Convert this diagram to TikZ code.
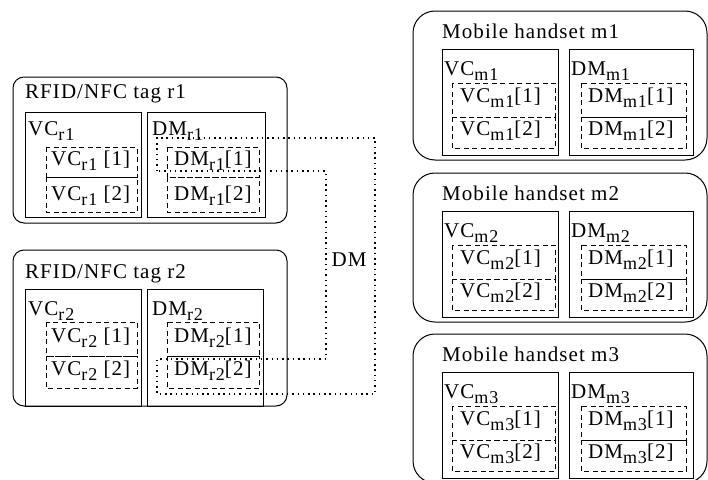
\documentclass[tikz,border=0pt]{standalone}
\usepackage{fontspec}
\setmainfont{Liberation Serif}[LetterSpace=5]
\newcommand\mysub[1]{\raisebox{-5pt}{\fontsize{18}{18}\selectfont #1}}
\begin{document}
\begin{tikzpicture}[x=1pt,y=-1pt,
  outerr/.style={draw,line width=1pt,rounded corners=11pt},
  outerm/.style={draw,line width=1pt,rounded corners=22pt},
  cbox/.style={draw,line width=1pt},
  dbox/.style={draw,line width=1pt,dash pattern=on 5pt off 3.5pt},
  link/.style={draw,line width=1.1pt,dash pattern=on 1.5pt off 3.8pt},
  lbl/.style={anchor=base west,inner sep=0pt,font=\fontsize{21}{24}\selectfont}]
\useasboundingbox (0,0) rectangle (708,479);
\clip (0,0) rectangle (708,479);
% ---- tag r1
\draw[outerr] (13,77) rectangle (287,223);
\draw[cbox] (25,112) rectangle (141,217);
\draw[cbox] (147,112) rectangle (265,217);
\draw[dbox] (46,147) rectangle (137,177);
\draw[dbox] (46,177) rectangle (137,212);
\draw[dbox] (167,147) rectangle (259,177);
\draw[dbox] (167,177) rectangle (259,212);
\node[lbl] (r1t) at (25,98) {RFID/NFC tag r1};
\node[lbl] (r1vc) at (28,135) {VC\mysub{r1}};
\node[lbl] (r1dm) at (152,135) {DM\mysub{r1}};
\node[lbl] (r1vc1) at (51,165) {VC\mysub{r1} [1]};
\node[lbl] (r1vc2) at (51,200) {VC\mysub{r1} [2]};
\node[lbl] (r1dm1) at (174,165) {DM\mysub{r1}[1]};
\node[lbl] (r1dm2) at (174,200) {DM\mysub{r1}[2]};
% ---- tag r2
\draw[outerr] (13,250) rectangle (287,406);
\draw[cbox] (25,289) rectangle (141,406);
\draw[cbox] (147,289) rectangle (263,406);
\draw[dbox] (46,322) rectangle (137,356);
\draw[dbox] (46,356) rectangle (137,388);
\draw[dbox] (167,322) rectangle (259,356);
\draw[dbox] (167,356) rectangle (259,388);
\node[lbl] (r2t) at (25,278) {RFID/NFC tag r2};
\node[lbl] (r2vc) at (28,315) {VC\mysub{r2}};
\node[lbl] (r2dm) at (152,315) {DM\mysub{r2}};
\node[lbl] (r2vc1) at (51,342) {VC\mysub{r2} [1]};
\node[lbl] (r2vc2) at (51,375) {VC\mysub{r2} [2]};
\node[lbl] (r2dm1) at (174,342) {DM\mysub{r2}[1]};
\node[lbl] (r2dm2) at (174,375) {DM\mysub{r2}[2]};
% ---- DM link
\coordinate (a1) at (157,138);
\coordinate (a2) at (157,171);
\coordinate (b1) at (157,359);
\coordinate (b2) at (157,394);
\coordinate (c1) at (375,138);
\coordinate (c2) at (375,394);
\coordinate (d1) at (326,171);
\coordinate (d2) at (326,359);
\draw[link] (a2) -- (a1) -- (c1) -- (c2) -- (b2) -- (b1) -- (d2) -- (d1) -- cycle;
\node[font=\fontsize{21}{24}\selectfont,inner sep=0pt] (dml) at (349,260) {DM};
% ---- mobile handsets
\foreach \i/\dy in {1/0,2/162,3/323}{
\begin{scope}[yshift=-\dy pt]
\draw[outerm] (413,11) rectangle (707,160);
\draw[cbox] (442,49) rectangle (558,155);
\draw[cbox] (569,49) rectangle (693,155);
\draw[dbox] (452,83) rectangle (555,117);
\draw[dbox] (452,117) rectangle (555,148);
\draw[dbox] (581,83) rectangle (686,117);
\draw[dbox] (581,117) rectangle (686,148);
\node[lbl] (m\i t) at (442,38) {Mobile handset m\i};
\node[lbl] (m\i vc) at (444,75) {VC\mysub{m\i}};
\node[lbl] (m\i dm) at (571,75) {DM\mysub{m\i}};
\node[lbl] (m\i vc1) at (460,102) {VC\mysub{m\i}[1]};
\node[lbl] (m\i vc2) at (460,135) {VC\mysub{m\i}[2]};
\node[lbl] (m\i dm1) at (588,102) {DM\mysub{m\i}[1]};
\node[lbl] (m\i dm2) at (588,135) {DM\mysub{m\i}[2]};
\end{scope}}
\end{tikzpicture}
\end{document}
